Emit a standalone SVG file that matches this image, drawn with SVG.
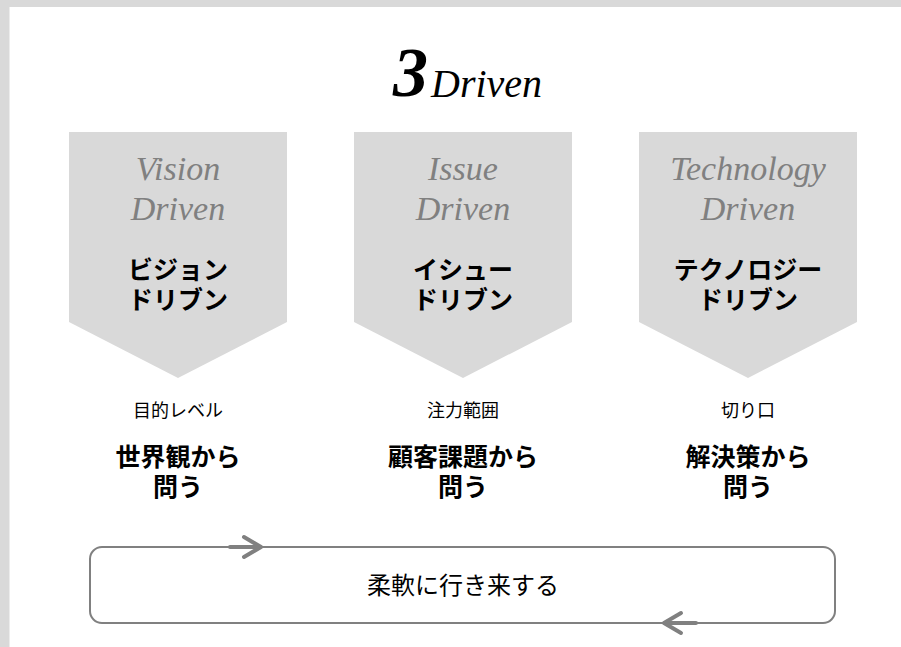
<svg xmlns="http://www.w3.org/2000/svg" width="901" height="647" viewBox="0 0 901 647">
<defs>
<style>
.bg{fill:#d9d9d9}
.panel{fill:#ffffff}
.penta{fill:#d9d9d9;stroke:none}
.script{font-family:"Liberation Serif","DejaVu Serif",serif;font-style:italic;font-size:34px;fill:#808080;text-anchor:middle}
.jpb{font-family:"Noto Sans CJK JP","Noto Sans",sans-serif;font-weight:bold;font-size:25px;fill:#000;text-anchor:middle}
.lbl{font-family:"Noto Sans CJK JP","Noto Sans",sans-serif;font-size:18px;fill:#000;text-anchor:middle}
.title{font-family:"Liberation Serif","DejaVu Serif",serif;font-style:italic;fill:#000}
.loop{fill:none;stroke:#808080;stroke-width:2}
.arr{fill:none;stroke:#808080;stroke-width:4;stroke-linecap:round;stroke-linejoin:round}
</style>
</defs>
<rect class="bg" x="0" y="0" width="901" height="647"/>
<rect class="panel" x="9.5" y="7" width="891.5" height="640"/>

<g id="title">
<text class="title" x="393" y="96" font-size="70" font-weight="bold">3</text>
<text class="title" x="431" y="97" font-size="40">Driven</text>
</g>

<g id="node-vision">
<polygon class="penta" points="69,132 287,132 287,322 178,378 69,322"/>
<text class="script" x="178" y="180">Vision</text>
<text class="script" x="178" y="220">Driven</text>
<text class="jpb" x="178" y="279">ビジョン</text>
<text class="jpb" x="178" y="309">ドリブン</text>
<text class="lbl" x="178" y="417">目的レベル</text>
<text class="jpb" x="178" y="466">世界観から</text>
<text class="jpb" x="178" y="496">問う</text>
</g>

<g id="node-issue">
<polygon class="penta" points="354,132 572,132 572,322 463,378 354,322"/>
<text class="script" x="463" y="180">Issue</text>
<text class="script" x="463" y="220">Driven</text>
<text class="jpb" x="463" y="279">イシュー</text>
<text class="jpb" x="463" y="309">ドリブン</text>
<text class="lbl" x="463" y="417">注力範囲</text>
<text class="jpb" x="463" y="466">顧客課題から</text>
<text class="jpb" x="463" y="496">問う</text>
</g>

<g id="node-technology">
<polygon class="penta" points="639,132 857,132 857,322 748,378 639,322"/>
<text class="script" x="748" y="180">Technology</text>
<text class="script" x="748" y="220">Driven</text>
<text class="jpb" x="748" y="279">テクノロジー</text>
<text class="jpb" x="748" y="309">ドリブン</text>
<text class="lbl" x="748" y="417">切り口</text>
<text class="jpb" x="748" y="466">解決策から</text>
<text class="jpb" x="748" y="496">問う</text>
</g>

<g id="node-loop">
<rect class="loop" x="90" y="547" width="745" height="76" rx="12" ry="12"/>
<text x="463" y="594" font-family="'Noto Sans CJK JP','Noto Sans',sans-serif" font-size="24" fill="#000" text-anchor="middle">柔軟に行き来する</text>
</g>

<g id="connectors">
<path class="arr" d="M230,547 H261 M244,537 L261,547 L244,557"/>
<path class="arr" d="M696,623 H664 M681,613 L664,623 L681,633"/>
</g>
</svg>
